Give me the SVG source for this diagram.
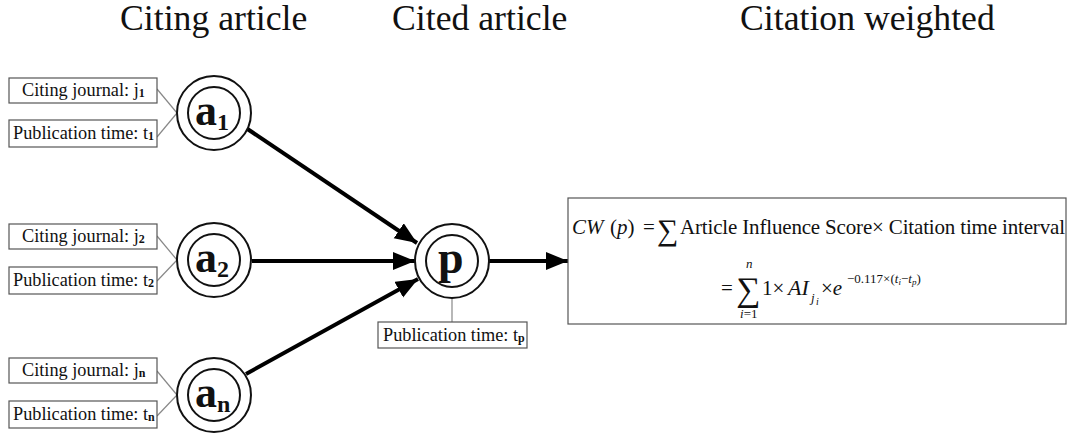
<svg xmlns="http://www.w3.org/2000/svg" width="1071" height="433" viewBox="0 0 1071 433">
  <style>
    text { font-family: "Liberation Serif", "Times New Roman", serif; fill: #111; }
    .title { font-size: 35.7px; }
    .lbl { font-size: 18.3px; }
    .sub { font-size: 12px; font-weight: bold; }
    .box { fill: #fff; stroke: #555; stroke-width: 1.2; }
    .tie { stroke: #888; stroke-width: 1.2; fill: none; }
    .ring { fill: #fff; stroke: #111; stroke-width: 2; }
    .inner { fill: none; stroke: #111; stroke-width: 2; }
    .node { font-size: 44px; font-weight: bold; }
    .nsub { font-size: 24px; font-weight: bold; }
    .edge { stroke: #000; stroke-width: 4; fill: none; }
    .math { font-size: 21px; }
    .it { font-style: italic; }
  </style>
  <defs>
    <marker id="arrow" markerUnits="userSpaceOnUse" markerWidth="24" markerHeight="20" refX="22" refY="9" orient="auto">
      <path d="M0,0 L22,9 L0,18 Z" fill="#000"/>
    </marker>
  </defs>

  <!-- column headings -->
  <text class="title" x="120" y="30">Citing article</text>
  <text class="title" x="392" y="30">Cited article</text>
  <text class="title" x="740" y="30">Citation weighted</text>

  <!-- connectors -->
  <g id="connectors">
    <line class="edge" x1="246" y1="128" x2="417" y2="243" marker-end="url(#arrow)"/>
    <line class="edge" x1="252" y1="261" x2="415" y2="261" marker-end="url(#arrow)"/>
    <line class="edge" x1="246" y1="374" x2="418" y2="279" marker-end="url(#arrow)"/>
    <line class="edge" x1="489" y1="261" x2="568" y2="261" marker-end="url(#arrow)"/>
  </g>

  <!-- citing article a1 -->
  <g id="a1">
    <line class="tie" x1="157" y1="89" x2="177" y2="113"/>
    <line class="tie" x1="157" y1="137" x2="177" y2="113"/>
    <rect class="box" x="9" y="78" width="148" height="25"/>
    <text class="lbl" x="22" y="96">Citing journal: j<tspan class="sub" dy="1">1</tspan></text>
    <rect class="box" x="9" y="120" width="148" height="27"/>
    <text class="lbl" x="13" y="139">Publication time: t<tspan class="sub" dy="1">1</tspan></text>
    <circle class="ring" cx="214" cy="113" r="37"/>
    <circle class="inner" cx="214" cy="113" r="26"/>
    <text class="node" x="195" y="125">a<tspan class="nsub" dy="5">1</tspan></text>
  </g>

  <!-- citing article a2 -->
  <g id="a2">
    <line class="tie" x1="157" y1="236" x2="177" y2="260"/>
    <line class="tie" x1="157" y1="281" x2="177" y2="260"/>
    <rect class="box" x="9" y="224" width="148" height="25"/>
    <text class="lbl" x="22" y="242">Citing journal: j<tspan class="sub" dy="1">2</tspan></text>
    <rect class="box" x="9" y="267" width="148" height="27"/>
    <text class="lbl" x="13" y="286">Publication time: t<tspan class="sub" dy="1">2</tspan></text>
    <circle class="ring" cx="214" cy="260" r="37"/>
    <circle class="inner" cx="214" cy="260" r="26"/>
    <text class="node" x="195" y="272">a<tspan class="nsub" dy="5">2</tspan></text>
  </g>

  <!-- citing article an -->
  <g id="an">
    <line class="tie" x1="157" y1="371" x2="177" y2="395"/>
    <line class="tie" x1="157" y1="416" x2="177" y2="395"/>
    <rect class="box" x="9" y="358" width="148" height="25"/>
    <text class="lbl" x="22" y="376">Citing journal: j<tspan class="sub" dy="1">n</tspan></text>
    <rect class="box" x="9" y="401" width="148" height="27"/>
    <text class="lbl" x="13" y="420">Publication time: t<tspan class="sub" dy="1">n</tspan></text>
    <circle class="ring" cx="214" cy="395" r="37"/>
    <circle class="inner" cx="214" cy="395" r="26"/>
    <text class="node" x="195" y="407">a<tspan class="nsub" dy="5">n</tspan></text>
  </g>

  <!-- cited article p -->
  <g id="p">
    <line class="tie" x1="452" y1="298" x2="452" y2="322"/>
    <rect class="box" x="378" y="322" width="149" height="26"/>
    <text class="lbl" x="383" y="341">Publication time: t<tspan class="sub" dy="1">p</tspan></text>
    <circle class="ring" cx="452" cy="261" r="37"/>
    <circle class="inner" cx="452" cy="261" r="26"/>
    <text class="node" x="438" y="273" style="font-size:46px">p</text>
  </g>

  <!-- citation weight formula -->
  <g id="formula">
    <rect class="box" x="568" y="198" width="498" height="126"/>
    <text class="math" y="234">
      <tspan class="it" x="572">CW</tspan><tspan x="610">(</tspan><tspan class="it">p</tspan><tspan>)</tspan><tspan x="643">=</tspan>
    </text>
    <text x="657" y="240" style="font-size:30px">∑</text>
    <text class="math" x="680" y="234" textLength="385" lengthAdjust="spacing">Article Influence Score× Citation time interval</text>
    <text class="math" x="721" y="295">=</text>
    <text x="736" y="301" style="font-size:34px">∑</text>
    <text class="math it" x="746" y="268" style="font-size:13px">n</text>
    <text class="math" x="740" y="318" style="font-size:13px"><tspan class="it">i</tspan>=1</text>
    <text class="math" x="762" y="295">1×</text>
    <text class="math it" x="788" y="295" style="font-size:22px">AI</text>
    <text class="math it" x="811" y="302" style="font-size:13px">j</text>
    <text class="math it" x="816" y="305" style="font-size:10px">i</text>
    <text class="math" x="821" y="295">×<tspan class="it">e</tspan></text>
    <text class="math" x="847" y="283" style="font-size:13px">−0.117×(<tspan class="it">t</tspan><tspan class="it" style="font-size:9px" dy="2">i</tspan><tspan dy="-2">−</tspan><tspan class="it">t</tspan><tspan class="it" style="font-size:9px" dy="2">p</tspan><tspan dy="-2">)</tspan></text>
  </g>
</svg>
